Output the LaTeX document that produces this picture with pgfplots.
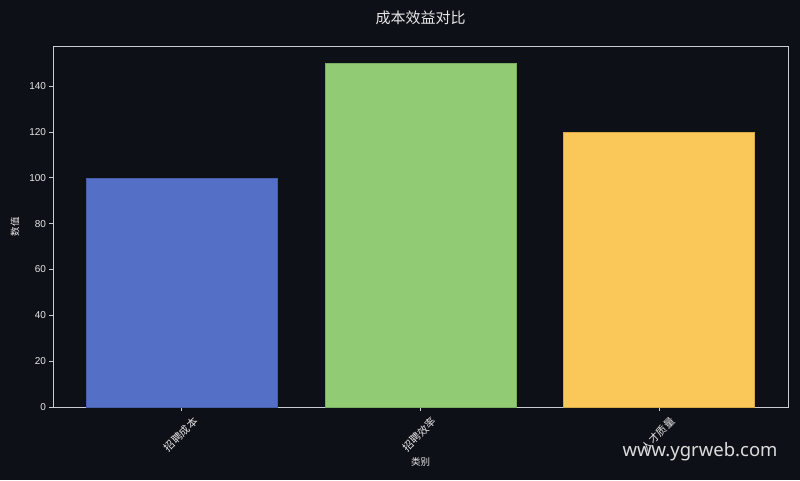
\documentclass[border=0pt]{standalone}
\usepackage{fontspec}
\usepackage{pgfplots}
\pgfplotsset{compat=1.18}
\setmainfont{Liberation Sans}
\newfontfamily\cjk{Noto Sans CJK SC}
\newfontfamily\wm{Noto Sans}

\definecolor{bg}{HTML}{0D1117}
\definecolor{fg}{HTML}{E6E6E6}
\definecolor{axisc}{HTML}{C9CDD2}
\definecolor{cblue}{HTML}{5470C6}
\definecolor{cgreen}{HTML}{91CC75}
\definecolor{cyellow}{HTML}{FAC858}

\begin{document}
\begin{tikzpicture}[x=1pt,y=1pt]
  \fill[bg] (0,0) rectangle (800,480);
  \begin{axis}[
    at={(53pt,73pt)}, anchor=south west,
    scale only axis, width=735pt, height=361pt,
    xmin=-0.54, xmax=2.54, ymin=0, ymax=157.5,
    ybar, bar width=0.8, bar shift=0pt,
    axis line style={axisc, line width=0.8pt},
    tick style={axisc, line width=0.8pt},
    tick align=outside, major tick length=3.5pt,
    xtick={0,1,2}, xticklabels={招聘成本,招聘效率,人才质量},
    ytick={0,20,40,60,80,100,120,140},
    xtick pos=bottom, ytick pos=left,
    tick label style={fg, font=\fontsize{10}{12}\selectfont},
    /pgf/number format/assume math mode=true,
    xticklabel style={font=\cjk\fontsize{10.5}{12}\selectfont, anchor=center, yshift=-24pt, xshift=-1pt, rotate=45},
    xlabel={\cjk 类别}, ylabel={\cjk 数值},
    label style={fg, font=\fontsize{9.5}{11}\selectfont},
    xlabel style={at={(axis description cs:0.5,0)}, anchor=center, yshift=-55pt},
    ylabel style={at={(axis description cs:0,0.5)}, anchor=center, rotate=0, yshift=38pt},
  ]
    \addplot[fill=cblue, draw=cblue!85!black, line width=0.5pt] coordinates {(0,100)};
    \addplot[fill=cgreen, draw=cgreen!85!black, line width=0.5pt] coordinates {(1,150)};
    \addplot[fill=cyellow, draw=cyellow!85!black, line width=0.5pt] coordinates {(2,120)};
  \end{axis}
  \node[fg, font=\cjk\fontsize{15}{18}\selectfont] at (420.5,462) {成本效益对比};
  \node[fg!90!gray, font=\wm\fontsize{18.5}{22}\selectfont, anchor=base east] at (781,24) {www.ygrweb.com};
\end{tikzpicture}
\end{document}
